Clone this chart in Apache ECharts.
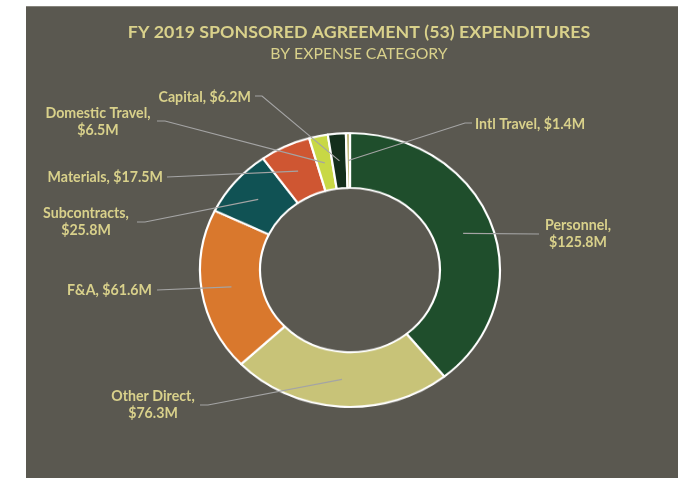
<!DOCTYPE html>
<html>
<head>
<meta charset="utf-8">
<script src="https://cdn.jsdelivr.net/npm/echarts@6/dist/echarts.min.js"></script>
<style>
  html, body { margin: 0; padding: 0; background: #ffffff; }
  #stage { position: relative; width: 682px; height: 478px; overflow: hidden; }
  #panel { position: absolute; left: 26px; top: 6px; width: 652px; height: 472px; background: #5a5850; border-top: 1px solid #86847c; }
  #ring, #chart { position: absolute; left: 0; top: 0; width: 682px; height: 478px; }
  /* Excel drew the doughnut slightly flattened */
  #ring { transform: scaleY(0.913); transform-origin: 350px 270px; }
</style>
</head>
<body>
<div id="stage">
  <div id="panel"></div>
  <div id="ring"></div>
  <div id="chart"></div>
</div>
<script>
const categories = ['Personnel', 'Other Direct', 'F&A', 'Subcontracts', 'Materials', 'Domestic Travel', 'Capital', 'Intl Travel'];
const values = [125.8, 76.3, 61.6, 25.8, 17.5, 6.5, 6.2, 1.4];
const labelWrap = [true, true, false, true, false, true, false, false];

const sliceColors = ['#1f4e2c', '#c8c378', '#d9782d', '#105254', '#cf5632', '#c8d845', '#132e1b', '#bdb570'];
const textColor = '#d9d18b';
const lineColor = '#a4a4a4';

// where Excel placed each data label (text anchor + where the leader line meets it)
const labelSpots = [
  { x: 578, y: 234, align: 'center', end: [539, 234], elbow: 0 },
  { x: 153, y: 405, align: 'center', end: [200, 405], elbow: 8 },
  { x: 152, y: 290, align: 'right', end: [157, 290], elbow: 0 },
  { x: 86, y: 222, align: 'center', end: [137, 222], elbow: 8 },
  { x: 163, y: 177, align: 'right', end: [167, 177], elbow: 0 },
  { x: 98, y: 122, align: 'center', end: [157, 121], elbow: 8 },
  { x: 251, y: 97, align: 'right', end: [255, 96], elbow: 7 },
  { x: 475, y: 124, align: 'left', end: [472, 123], elbow: -7 },
];

const cx = 350, cy = 270, rOuter = 150, rInner = 90, squash = 0.913;
const pieData = categories.map((name, i) => ({ name: name, value: values[i] }));

// doughnut itself (flattened via css)
const ring = echarts.init(document.getElementById('ring'));
ring.setOption({
  backgroundColor: 'transparent',
  animation: false,
  series: [{
    type: 'pie',
    center: [cx, cy],
    radius: [rInner, rOuter],
    startAngle: 90,
    clockwise: true,
    data: pieData,
    color: sliceColors,
    label: { show: false },
    labelLine: { show: false },
    itemStyle: { borderColor: '#ffffff', borderWidth: 2.2 },
  }],
});

// title + labels, unscaled so the text is not squashed
const chart = echarts.init(document.getElementById('chart'));
chart.setOption({
  backgroundColor: 'transparent',
  animation: false,
  title: [
    {
      text: 'FY 2019 SPONSORED AGREEMENT (53) EXPENDITURES',
      left: 354, top: 18, textAlign: 'center',
      textStyle: { fontFamily: 'Lato', fontSize: 17.8, fontWeight: 'bold', color: textColor },
    },
    {
      text: 'BY EXPENSE CATEGORY',
      left: 354, top: 41, textAlign: 'center',
      textStyle: { fontFamily: 'Lato', fontSize: 15.8, fontWeight: 'normal', color: textColor },
    },
  ],
  series: [{
    type: 'pie',
    center: [cx, cy],
    radius: [rInner, rOuter],
    startAngle: 90,
    clockwise: true,
    silent: true,
    data: pieData,
    itemStyle: { color: 'transparent', borderWidth: 0 },
    label: {
      show: true,
      color: textColor,
      fontFamily: 'Lato',
      fontWeight: 'bold',
      fontSize: 14.2,
      lineHeight: 17,
      formatter: (p) => p.name + ',' + (labelWrap[p.dataIndex] ? '\n' : ' ') + '$' + p.value.toFixed(1) + 'M',
    },
    labelLine: { show: true, lineStyle: { color: lineColor, width: 1.2 } },
    labelLayout: (params) => {
      const spot = labelSpots[params.dataIndex];
      const pts = params.labelLinePoints;
      let anchor = [cx, cy];
      if (pts && pts.length) {
        const dx = pts[0][0] - cx;
        const dy = pts[0][1] - cy;
        const k = (rInner + rOuter) / 2 / rOuter;
        anchor = [cx + dx * k, cy + dy * k * squash];
      }
      const line = [anchor];
      if (spot.elbow) line.push([spot.end[0] + spot.elbow, spot.end[1]]);
      line.push(spot.end);
      return {
        x: spot.x,
        y: spot.y,
        align: spot.align,
        verticalAlign: 'middle',
        labelLinePoints: line,
      };
    },
  }],
});
</script>
</body>
</html>
